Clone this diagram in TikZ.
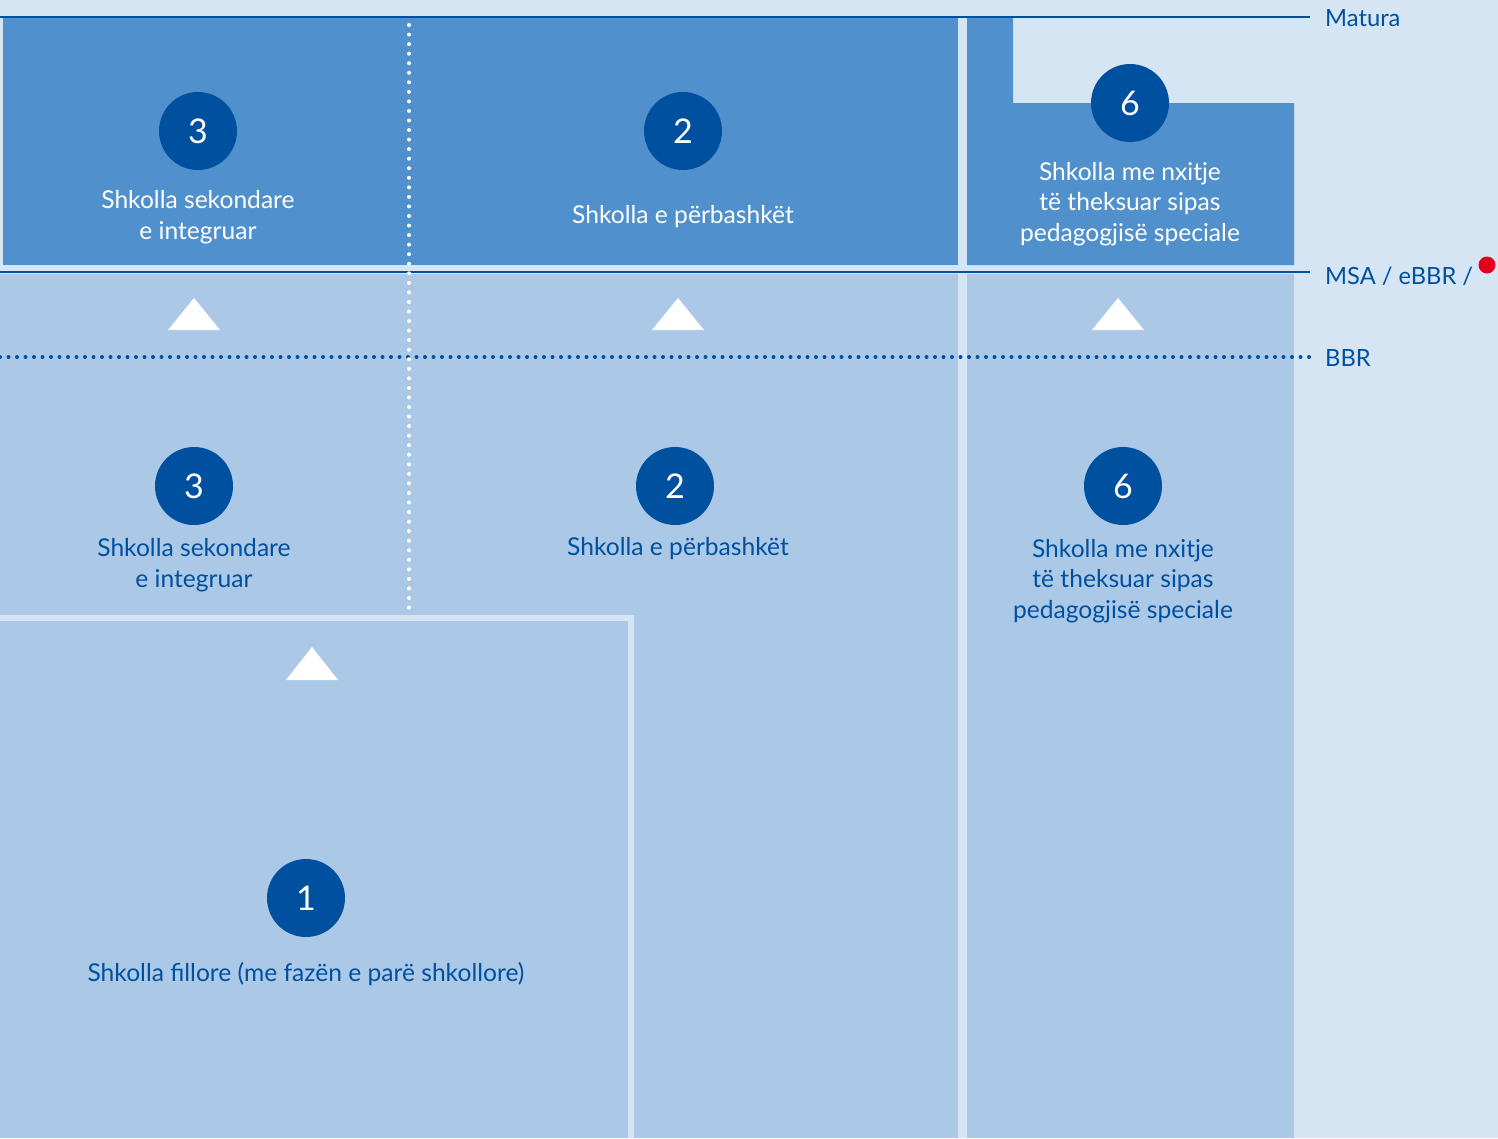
\documentclass[tikz,border=0pt]{standalone}
\usepackage{fontspec}
\setmainfont{Lato}
\definecolor{bgc}{HTML}{D6E5F3}
\definecolor{midc}{HTML}{5090CC}
\definecolor{lightc}{HTML}{ABC9E6}
\definecolor{darkc}{HTML}{0050A0}
\definecolor{redc}{HTML}{E2001A}
\tikzset{
  numc/.style={circle, fill=darkc, minimum size=78pt, inner sep=0pt, text=white, font=\fontsize{34}{34}\selectfont},
  wtext/.style={align=center, text=white, font=\fontsize{24.6}{30.7}\selectfont, inner sep=0pt},
  dtext/.style={align=center, text=darkc, font=\fontsize{24.6}{30.7}\selectfont, inner sep=0pt},
  lbl/.style={anchor=west, text=darkc, font=\fontsize{23.7}{28}\selectfont, inner sep=0pt},
  level/.style={draw=darkc, line width=2.5pt},
  tri/.style={fill=white},
}
\begin{document}
\begin{tikzpicture}[x=1pt,y=-1pt]
\fill[bgc] (0,0) rectangle (1498,1138);
\useasboundingbox (0,0) rectangle (1498,1138);
% light lower regions
\fill[lightc] (0,274) rectangle (958,1138);
\fill[lightc] (967,274) rectangle (1294,1138);
% top boxes
\fill[midc] (3,18) rectangle (958,265);
\fill[midc] (967,18) -- (1013,18) -- (1013,103) -- (1294,103) -- (1294,265) -- (967,265) -- cycle;
% bottom-left frame
\draw[bgc, line width=6pt] (0,618) -- (631,618) -- (631,1138);
% level lines
\coordinate (matL) at (0,17); \coordinate (matR) at (1310,17);
\coordinate (msaL) at (0,272); \coordinate (msaR) at (1310,272);
\coordinate (bbrL) at (0,357); \coordinate (bbrR) at (1310,357);
\draw[level] (matL) -- (matR);
\draw[level] (msaL) -- (msaR);
\draw[darkc, line width=4pt, line cap=round, dash pattern=on 0pt off 8.5pt] (bbrL) -- (bbrR);
% vertical white dotted
\coordinate (vT) at (409,25); \coordinate (vB) at (409,610);
\draw[white, line width=4pt, line cap=round, dash pattern=on 0pt off 9.55pt] (vT) -- (vB);
% triangles
\fill[tri] (168,330) -- (194,298) -- (220,330) -- cycle;
\fill[tri] (652,330) -- (678,298) -- (704,330) -- cycle;
\fill[tri] (1092,330) -- (1118,298) -- (1144,330) -- cycle;
\fill[tri] (286,680) -- (312,647) -- (338,680) -- cycle;
% circles
\node[numc] (c3t) at (198,131) {3};
\node[numc] (c2t) at (683,131) {2};
\node[numc] (c6t) at (1130,103) {6};
\node[numc] (c3b) at (194,486) {3};
\node[numc] (c2b) at (675,486) {2};
\node[numc] (c6b) at (1123,486) {6};
\node[numc] (c1) at (306,898) {1};
% texts
\node[wtext] (t3t) at (198,217) {Shkolla sekondare\\e integruar};
\node[wtext] (t2t) at (683,217) {Shkolla e përbashkët};
\node[wtext] (t6t) at (1130,204) {Shkolla me nxitje\\të theksuar sipas\\pedagogjisë speciale};
\node[dtext] (t3b) at (194,565) {Shkolla sekondare\\e integruar};
\node[dtext] (t2b) at (678,549) {Shkolla e përbashkët};
\node[dtext] (t6b) at (1123,581) {Shkolla me nxitje\\të theksuar sipas\\pedagogjisë speciale};
\node[dtext] (t1) at (306,974) {Shkolla fillore (me fazën e parë shkollore)};
% labels
\node[lbl] (lmat) at (1325,18) {Matura};
\node[lbl] (lmsa) at (1325,276) {MSA / eBBR /};
\node[lbl] (lbbr) at (1325,358) {BBR};
\node[circle, fill=redc, minimum size=17pt, inner sep=0pt] (rdot) at (1487,265) {};
\end{tikzpicture}
\end{document}
